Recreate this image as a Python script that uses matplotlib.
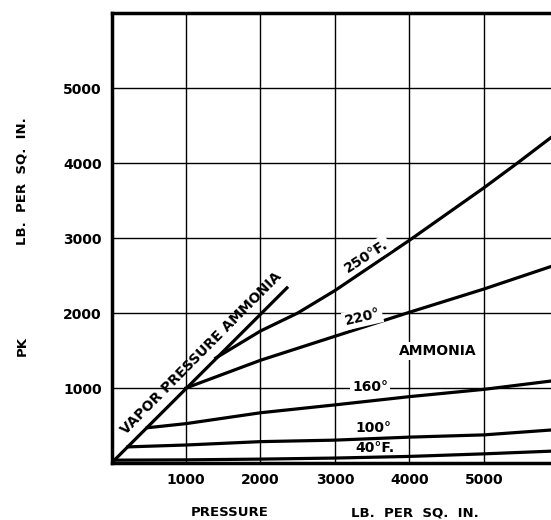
import matplotlib
matplotlib.use("Agg")
import matplotlib.pyplot as plt

# isotherms of PK vs pressure for ammonia
vp_x = [0, 2370]
vp_y = [0, 2350]

t250_x = [1400, 2000, 2500, 3000, 4000, 5000, 5450, 5900]
t250_y = [1400, 1760, 2000, 2300, 2970, 3670, 4000, 4340]

t220_x = [1000, 2000, 3000, 4000, 5000, 5900]
t220_y = [1000, 1370, 1690, 2010, 2320, 2620]

t160_x = [480, 1000, 2000, 3000, 4000, 5000, 5900]
t160_y = [470, 525, 670, 775, 885, 982, 1093]

t100_x = [220, 1000, 2000, 3000, 4000, 5000, 5900]
t100_y = [215, 240, 285, 305, 345, 375, 440]

t40_x = [40, 1000, 2000, 3000, 4000, 5000, 5900]
t40_y = [38, 42, 52, 66, 88, 122, 158]

ticks = [1000, 2000, 3000, 4000, 5000]

plt.rcParams['font.family'] = ['DejaVu Sans']
plt.rcParams['font.weight'] = 'bold'

fig = plt.figure(figsize=(5.51, 5.2), dpi=100)
ax = fig.add_axes([0.2024, 0.1096, 0.7976, 0.8654])

ax.set_xlim(0, 5900)
ax.set_ylim(0, 6000)
ax.set_xticks(ticks)
ax.set_yticks(ticks)
ax.set_xticklabels([str(t) for t in ticks], fontsize=10, fontweight='bold')
ax.set_yticklabels([str(t) for t in ticks], fontsize=10, fontweight='bold')
ax.tick_params(length=0, pad=7)
ax.grid(True, color='black', linewidth=1.0)
ax.set_axisbelow(True)

for s in ['left', 'bottom', 'top']:
    ax.spines[s].set_linewidth(2.5)
ax.spines['right'].set_visible(False)

lw = 2.3
ax.plot(vp_x, vp_y, '-k', lw=lw, solid_capstyle='butt')
ax.plot(t250_x, t250_y, '-k', lw=lw)
ax.plot(t220_x, t220_y, '-k', lw=lw)
ax.plot(t160_x, t160_y, '-k', lw=lw)
ax.plot(t100_x, t100_y, '-k', lw=lw)
ax.plot(t40_x, t40_y, '-k', lw=lw)

box = dict(facecolor='white', edgecolor='none', pad=1.5)
fs = 10
ax.text(1210, 1470, 'VAPOR PRESSURE AMMONIA', rotation=45.3, fontsize=fs,
        ha='center', va='center', fontweight='bold')
ax.text(3420, 2760, '250°F.', rotation=33, fontsize=fs, ha='center',
        va='center', fontweight='bold', bbox=box)
ax.text(3370, 1940, '220°', rotation=13, fontsize=fs, ha='center',
        va='center', fontweight='bold', bbox=box)
ax.text(4380, 1490, 'AMMONIA', fontsize=fs, ha='center', va='center',
        fontweight='bold', bbox=box)
ax.text(3470, 1010, '160°', fontsize=fs, ha='center', va='center',
        fontweight='bold', bbox=box)
ax.text(3510, 470, '100°', fontsize=fs, ha='center', va='center',
        fontweight='bold')
ax.text(3540, 195, '40°F.', fontsize=fs, ha='center', va='center',
        fontweight='bold')

fig.text(230 / 551, 1 - 513 / 520, 'PRESSURE', fontsize=9.5, ha='center',
         va='center', fontweight='bold')
fig.text(415 / 551, 1 - 513 / 520, 'LB.  PER  SQ.  IN.', fontsize=9.5,
         ha='center', va='center', fontweight='bold')
fig.text(22 / 551, 1 - 346 / 520, 'PK', fontsize=9.5, rotation=90,
         ha='center', va='center', fontweight='bold')
fig.text(22 / 551, 1 - 181 / 520, 'LB.  PER  SQ.  IN.', fontsize=9.5,
         rotation=90, ha='center', va='center', fontweight='bold')

fig.savefig('out.png', dpi=100)
